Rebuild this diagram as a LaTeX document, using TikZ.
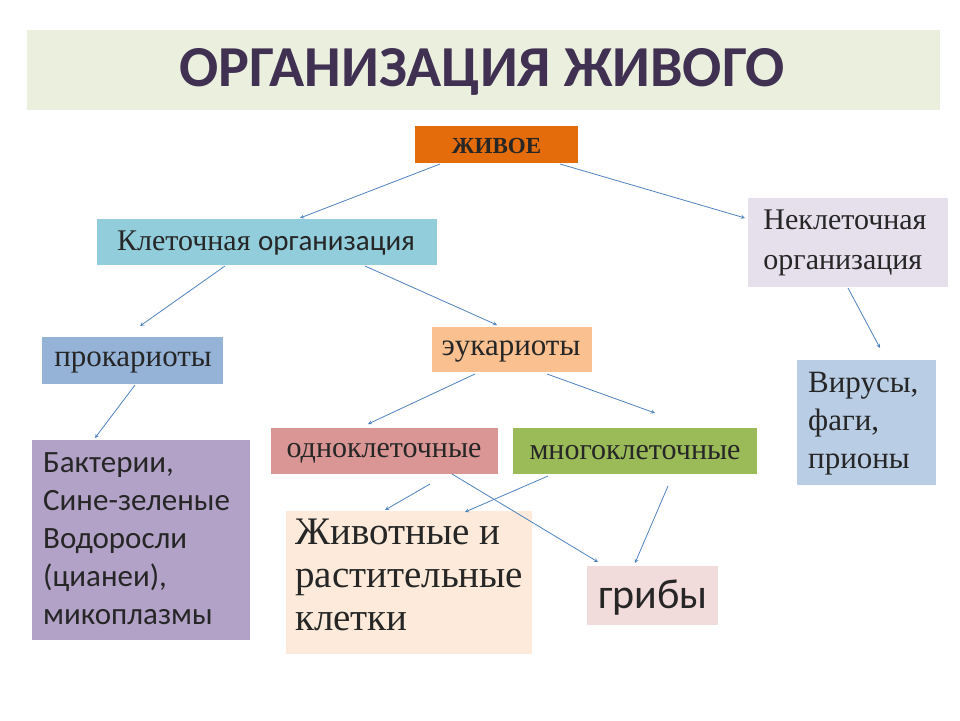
\documentclass[tikz,border=0pt]{standalone}
\usepackage{fontspec}
\setmainfont{Liberation Serif}
\newfontfamily\calib{Carlito}
\definecolor{titlebg}{RGB}{235,240,222}
\definecolor{titlefg}{RGB}{64,49,82}
\definecolor{arrowcolor}{RGB}{79,129,189}
\definecolor{orangebox}{RGB}{228,108,10}
\definecolor{cellbox}{RGB}{146,205,220}
\definecolor{noncellbox}{RGB}{229,224,236}
\definecolor{prokbox}{RGB}{149,179,215}
\definecolor{eukbox}{RGB}{250,192,144}
\definecolor{unibox}{RGB}{217,150,148}
\definecolor{multibox}{RGB}{155,187,89}
\definecolor{bactbox}{RGB}{178,162,199}
\definecolor{virbox}{RGB}{185,205,229}
\definecolor{animbox}{RGB}{253,234,218}
\definecolor{fungbox}{RGB}{242,220,219}
\tikzset{
  box/.style={inner sep=0pt, anchor=north west, align=left, text=black!85},
  link/.style={draw=arrowcolor, line width=0.8pt, -stealth}
}
\begin{document}
\begin{tikzpicture}[x=1pt,y=-1pt, every node/.style={text=black!85}]
    \useasboundingbox (0,0) rectangle (960,720);
    % Title band
    \fill[titlebg] (27,30) rectangle (940,110);
    \node[text=titlefg, font=\calib\bfseries\fontsize{58}{64}\selectfont] (title) at (482,72) {ОРГАНИЗАЦИЯ ЖИВОГО};

    % Boxes
    \fill[orangebox] (415,126) rectangle (578,163);
    \node[font=\bfseries\fontsize{23}{26}\selectfont] (live) at (496.5,146) {ЖИВОЕ};
    \fill[cellbox] (97,219) rectangle (437,265);
    \node[font=\fontsize{30}{34}\selectfont] (cell) at (266,243) {Клеточная {\calib\fontsize{29}{34}\selectfont организация}};
    \fill[noncellbox] (748,198) rectangle (948,287);
    \node[font=\fontsize{30}{40}\selectfont, align=left] (noncell) at (845,243) {Неклеточная\\организация};
    \fill[prokbox] (42,337) rectangle (223,384);
    \node[font=\fontsize{31}{34}\selectfont] (prok) at (133,362) {прокариоты};
    \fill[eukbox] (432,327) rectangle (592,372);
    \node[font=\fontsize{31}{34}\selectfont] (euk) at (511,352) {эукариоты};
    \fill[unibox] (271,428) rectangle (498,474);
    \node[font=\fontsize{30}{34}\selectfont] (uni) at (384,453) {одноклеточные};
    \fill[multibox] (513,428) rectangle (757,474);
    \node[font=\fontsize{30}{34}\selectfont] (multi) at (635,453) {многоклеточные};
    \fill[bactbox] (32,440) rectangle (250,640);
    \node[box, font=\calib\fontsize{31}{38}\selectfont] (bact) at (43,452) {Бактерии,\\Сине-зеленые\\Водоросли\\(цианеи),\\микоплазмы};
    \fill[virbox] (797,360) rectangle (936,485);
    \node[box, font=\fontsize{31}{38}\selectfont] (vir) at (808,372) {Вирусы,\\фаги,\\прионы};
    \fill[animbox] (286,511) rectangle (532,654);
    \node[box, font=\fontsize{39}{43}\selectfont] (anim) at (295,519) {Животные и\\растительные\\клетки};
    \fill[fungbox] (587,566) rectangle (718,625);
    \node[font=\calib\fontsize{42}{46}\selectfont] (fung) at (653,598) {грибы};

    % Arrow ends
    \coordinate (a1) at (440,164); \coordinate (b1) at (300,218);
    \coordinate (a2) at (560,164); \coordinate (b2) at (745,218);
    \coordinate (a3) at (225,266); \coordinate (b3) at (140,326);
    \coordinate (a4) at (365,266); \coordinate (b4) at (497,325);
    \coordinate (a5) at (135,385); \coordinate (b5) at (95,438);
    \coordinate (a6) at (848,288); \coordinate (b6) at (880,348);
    \coordinate (a7) at (475,374); \coordinate (b7) at (368,424);
    \coordinate (a8) at (547,374); \coordinate (b8) at (655,413);
    \coordinate (a9) at (430,484); \coordinate (b9) at (385,510);
    \coordinate (a10) at (452,474); \coordinate (b10) at (598,562);
    \coordinate (a11) at (548,476); \coordinate (b11) at (465,512);
    \coordinate (a12) at (668,486); \coordinate (b12) at (635,563);
    \foreach \i in {1,...,12}
        \draw[link] (a\i) -- (b\i);
\end{tikzpicture}
\end{document}
